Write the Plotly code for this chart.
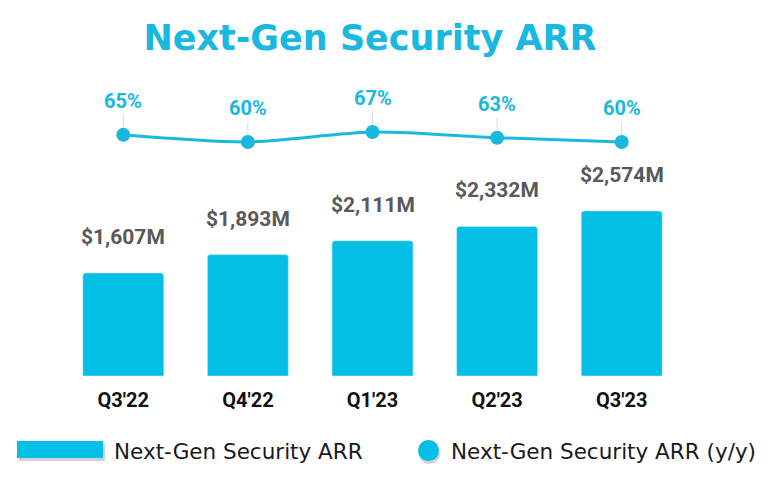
import plotly.graph_objects as go

categories = ["Q3'22", "Q4'22", "Q1'23", "Q2'23", "Q3'23"]
arr_values = [1607, 1893, 2111, 2332, 2574]
arr_labels = ["$1,607M", "$1,893M", "$2,111M", "$2,332M", "$2,574M"]
yoy_values = [65, 60, 67, 63, 60]
yoy_labels = ["65%", "60%", "67%", "63%", "60%"]
title_text = "Next-Gen Security ARR"
legend_bar = "Next-Gen Security ARR"
legend_line = "Next-Gen Security ARR (y/y)"

BAR = "#03BFE6"
LINE = "#18B8E0"

W, H = 769, 478
L, R, T, B = 61, 85, 0, 102
PW, PH = W - L - R, H - T - B


def px(x):
    return (x - L) / PW


def py(y):
    return 1 - (y - T) / PH


fig = go.Figure()
fig.add_trace(go.Bar(x=categories, y=arr_values, marker=dict(color=BAR, cornerradius=3),
                     width=0.65, showlegend=False, hoverinfo="skip"))
fig.add_trace(go.Scatter(x=categories, y=yoy_values, yaxis="y2", mode="lines+markers",
                         line=dict(color=LINE, width=3, shape="spline", smoothing=0.8),
                         marker=dict(color=LINE, size=14), showlegend=False))

annotations = []
for c, v, t in zip(categories, arr_values, arr_labels):
    annotations.append(dict(x=c, y=v, yref="y", text=f"<b>{t}</b>", showarrow=False,
                            yanchor="middle", yshift=36,
                            font=dict(family="Roboto", size=21, color="#595959")))
for c, v, t in zip(categories, yoy_values, yoy_labels):
    annotations.append(dict(x=c, y=v, yref="y2", text=f"<b>{t}</b>", showarrow=True,
                            ax=0, ay=-34, arrowhead=0, arrowwidth=1, arrowcolor="#dadada",
                            standoff=8, startstandoff=0,
                            font=dict(family="Roboto", size=20, color=LINE)))

# legend texts
annotations.append(dict(xref="paper", yref="paper", x=px(112), y=py(451), text=legend_bar,
                        showarrow=False, xanchor="left", yanchor="middle",
                        font=dict(family="DejaVu Sans", size=21.5, color="#1a1a1a")))
annotations.append(dict(xref="paper", yref="paper", x=px(449), y=py(451), text=legend_line,
                        showarrow=False, xanchor="left", yanchor="middle",
                        font=dict(family="DejaVu Sans", size=21.5, color="#1a1a1a")))

shapes = [
    dict(type="rect", xref="paper", yref="paper", x0=px(19), x1=px(105), y0=py(444), y1=py(461),
         fillcolor="rgba(0,0,0,0.18)", line=dict(width=0), layer="below"),
    dict(type="rect", xref="paper", yref="paper", x0=px(17), x1=px(103), y0=py(441), y1=py(458),
         fillcolor=BAR, line=dict(width=0)),
    dict(type="circle", xref="paper", yref="paper", x0=px(419), x1=px(440), y0=py(443), y1=py(464),
         fillcolor="rgba(0,0,0,0.18)", line=dict(width=0), layer="below"),
    dict(type="circle", xref="paper", yref="paper", x0=px(418), x1=px(439), y0=py(440), y1=py(461),
         fillcolor=BAR, line=dict(width=0)),
]

fig.update_layout(
    width=W, height=H,
    margin=dict(l=L, r=R, t=T, b=B),
    paper_bgcolor="white", plot_bgcolor="white",
    title=dict(text=f"<b>{title_text}</b>", x=370 / W, y=1 - 38 / H, xanchor="center", yanchor="middle",
               font=dict(family="DejaVu Sans", size=35, color=LINE)),
    xaxis=dict(type="category", range=[-0.5, 4.5], showgrid=False, showline=False, ticks="",
               tickfont=dict(family="Roboto", size=20, color="#111111"), ticklabelstandoff=10,
               tickprefix="<b>", ticksuffix="</b>"),
    yaxis=dict(range=[0, 5864], visible=False, showgrid=False),
    yaxis2=dict(range=[-103.8, 159.4], overlaying="y", visible=False, showgrid=False),
    annotations=annotations,
    shapes=shapes,
    bargap=0.35,
)

fig.write_html("out.html")
